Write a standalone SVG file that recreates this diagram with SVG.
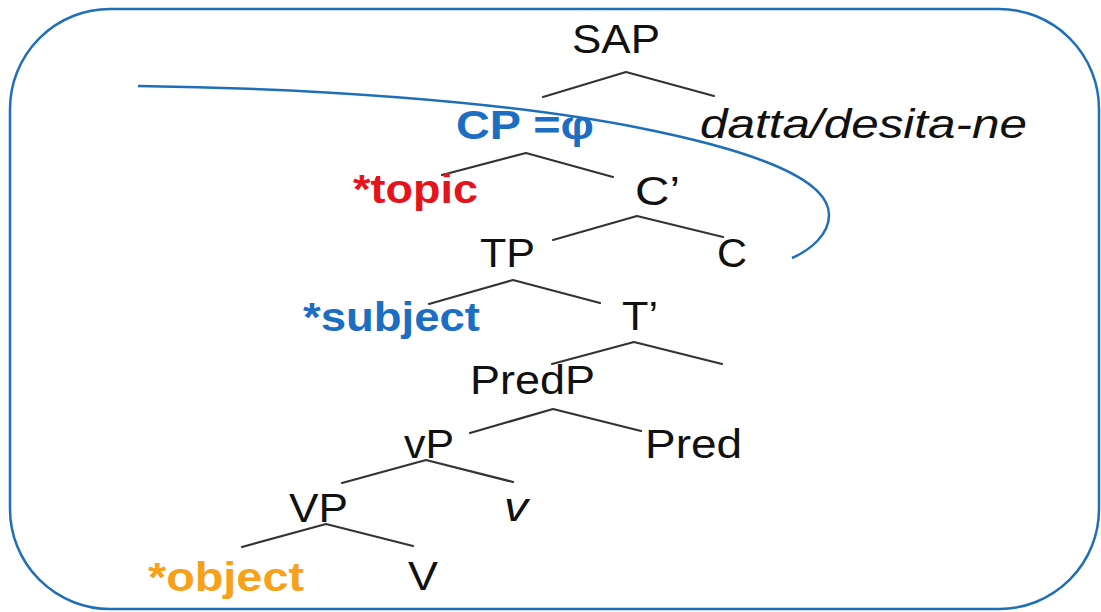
<svg xmlns="http://www.w3.org/2000/svg" width="1101" height="612" viewBox="0 0 1101 612">
<style>
.n{font-family:"Liberation Sans","DejaVu Sans",sans-serif;font-size:41px;fill:#111;}
.i{font-style:italic;}
.b{font-weight:bold;font-size:40px;}
.blue{fill:#1b6ec2;}
.red{fill:#e5141c;}
.orange{fill:#f7a11a;}
.e{stroke:#333;stroke-width:2.2;fill:none;stroke-linecap:round;stroke-linejoin:round;}
.o{stroke:#1f6fb8;stroke-width:2.5;fill:none;}
</style>
<rect width="1101" height="612" fill="#fff"/>
<g id="outline">
<rect class="o" x="10" y="9" width="1089" height="600" rx="100" ry="100"/>
<path class="o" d="M138,86 C300,88 500,100 640,128 C760,152 829,180 829,215 C829,235 810,250 792,258"/>
</g>
<g id="connectors">
<polyline class="e" points="543,97 626,72 714,96"/>
<polyline class="e" points="442,175 526,153 613,177"/>
<polyline class="e" points="553,240 637,216 723,237"/>
<polyline class="e" points="429,304 513,280 600,303"/>
<polyline class="e" points="552,364 634,342 722,364"/>
<polyline class="e" points="470,433 553,409 641,431"/>
<polyline class="e" points="342,483 426,460 513,482"/>
<polyline class="e" points="242,547 326,524 413,546"/>
</g>
<g id="SAP"><text class="n" x="572" y="53" textLength="88" lengthAdjust="spacingAndGlyphs">SAP</text></g>
<g id="CP"><text class="n b blue" x="456" y="139" textLength="138" lengthAdjust="spacingAndGlyphs">CP =φ</text></g>
<g id="datta"><text class="n i" x="700" y="138" textLength="327" lengthAdjust="spacingAndGlyphs">datta/desita-ne</text></g>
<g id="topic"><text class="n b red" x="353" y="203" textLength="125" lengthAdjust="spacingAndGlyphs">*topic</text></g>
<g id="Cbar"><text class="n" x="635" y="205" textLength="45" lengthAdjust="spacingAndGlyphs">C’</text></g>
<g id="TP"><text class="n" x="480" y="267" textLength="55" lengthAdjust="spacingAndGlyphs">TP</text></g>
<g id="C"><text class="n" x="717" y="267" textLength="30" lengthAdjust="spacingAndGlyphs">C</text></g>
<g id="subject"><text class="n b blue" x="303" y="331" textLength="177" lengthAdjust="spacingAndGlyphs">*subject</text></g>
<g id="Tbar"><text class="n" x="622" y="330" textLength="36" lengthAdjust="spacingAndGlyphs">T’</text></g>
<g id="PredP"><text class="n" x="470" y="394" textLength="125" lengthAdjust="spacingAndGlyphs">PredP</text></g>
<g id="vP"><text class="n" x="404" y="458" textLength="50" lengthAdjust="spacingAndGlyphs">vP</text></g>
<g id="Pred"><text class="n" x="645" y="458" textLength="97" lengthAdjust="spacingAndGlyphs">Pred</text></g>
<g id="VP"><text class="n" x="289" y="522" textLength="59" lengthAdjust="spacingAndGlyphs">VP</text></g>
<g id="v"><text class="n i" x="504" y="521" textLength="24" lengthAdjust="spacingAndGlyphs">v</text></g>
<g id="object"><text class="n b orange" x="148" y="591" textLength="156" lengthAdjust="spacingAndGlyphs">*object</text></g>
<g id="V"><text class="n" x="408" y="590" textLength="30" lengthAdjust="spacingAndGlyphs">V</text></g>
</svg>
